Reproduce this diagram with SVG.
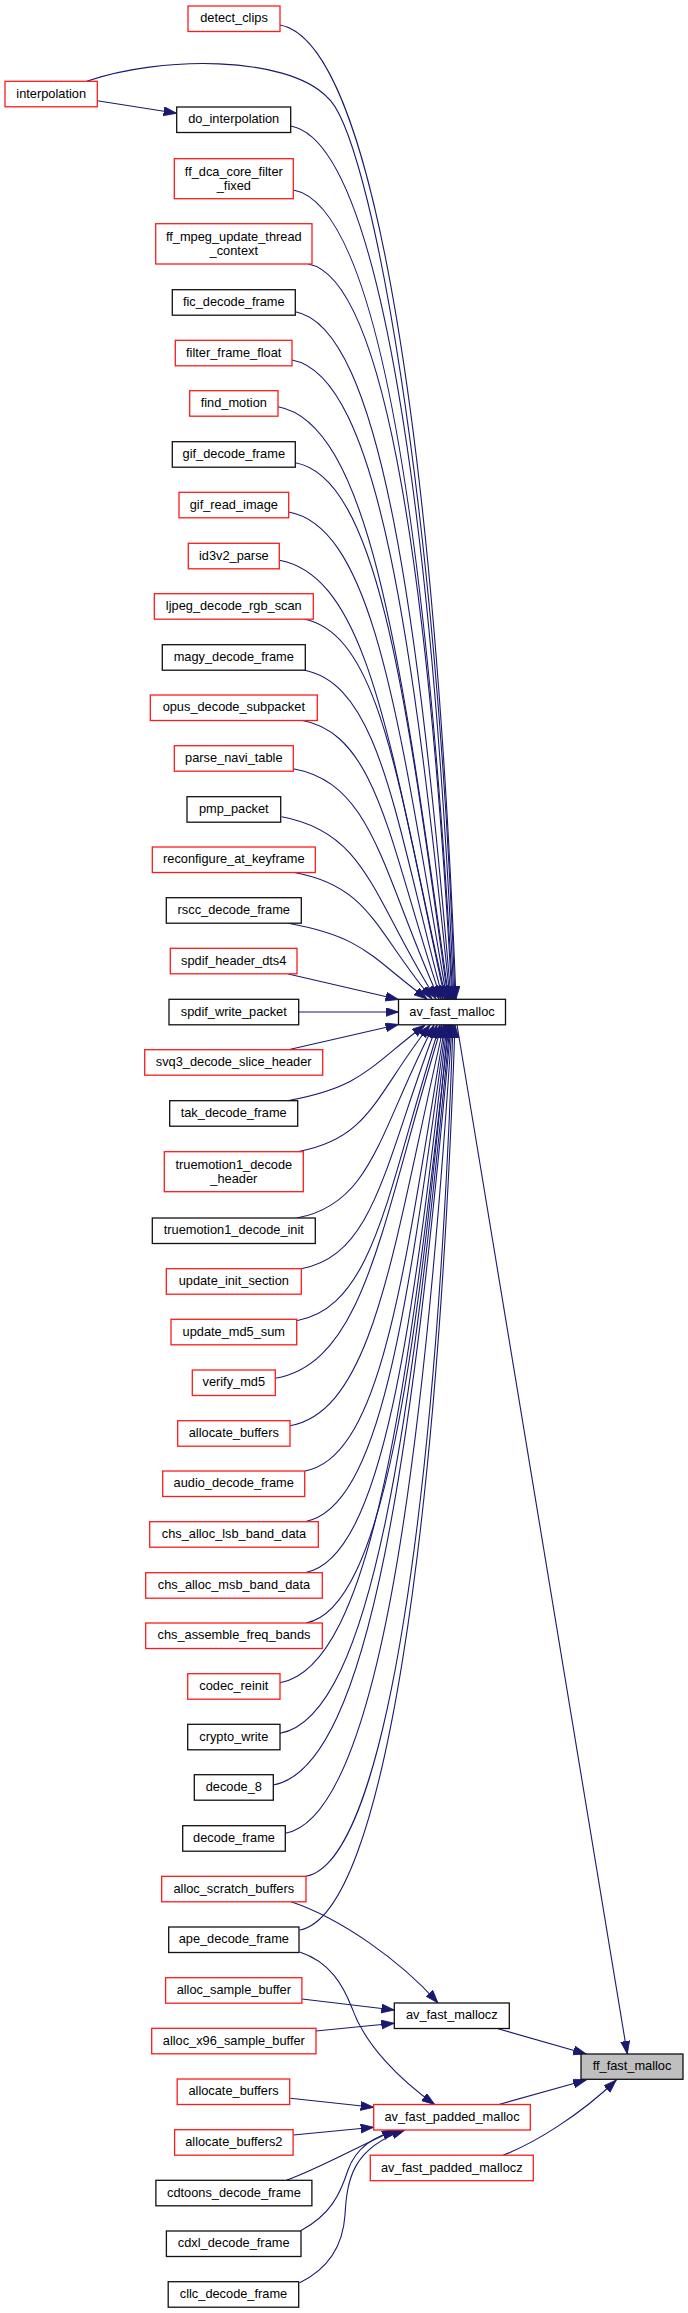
<svg xmlns="http://www.w3.org/2000/svg" width="688" height="2313" viewBox="0 0 688 2313">
<style>
.n rect{fill:#ffffff;stroke-width:1.3}
.k rect{stroke:#111111}
.r rect{stroke:#ff1a1a}
.g rect{fill:#bfbfbf}
text{font-family:"Liberation Sans",Arial,sans-serif;font-size:12.8px;fill:#000000;text-anchor:middle}
#edges path{fill:none;stroke:#191970;stroke-width:1.1;marker-end:url(#ah)}
</style>
<defs>
<marker id="ah" markerUnits="userSpaceOnUse" markerWidth="14" markerHeight="10" refX="13" refY="4.5" orient="auto">
<path d="M0,0 L13,4.5 L0,9 z" fill="#191970" stroke="#191970" stroke-width="0.8"/>
</marker>
</defs>
<rect x="0" y="0" width="688" height="2313" fill="#ffffff"/>
<g id="edges">
<path d="M280,25 C376.8,42.6 435,463.3 456,999"/>
<path d="M86.7,81.3 C160,56 285,55 326.7,96.7 C370,130 437.7,503 455,999"/>
<path d="M290.7,126 C380.5,142.3 432.2,518.8 454,999"/>
<path d="M293.3,190 C381.1,206 428.1,554 453,999"/>
<path d="M308.3,264 C387.3,278.4 430.1,594.7 452,999"/>
<path d="M295.3,311.7 C380.9,327.3 419.2,621 451,999"/>
<path d="M292,360 C378.9,375.8 413.7,647.5 450,999"/>
<path d="M278,406.7 C372.1,423.8 402.7,673.2 449,999"/>
<path d="M295.3,462.7 C379.3,478 407.1,704 448,999"/>
<path d="M288.7,512 C375.8,527.8 399.8,731.1 447,999"/>
<path d="M279.3,560.3 C371,577 391.2,757.7 446,999"/>
<path d="M303.3,619 C381.2,633.2 398.9,790 445,999"/>
<path d="M303.3,670 C380.1,684 394.5,818 443,999"/>
<path d="M301.7,720.3 C378.3,734.2 389.4,845.7 441,999"/>
<path d="M293.3,768.7 C373.4,783.3 381.8,872.3 439,999"/>
<path d="M281.7,816.7 C366.6,832.1 372.9,898.7 436,999"/>
<path d="M293.3,872.3 C369.6,886.2 374.4,929.3 432,999"/>
<path d="M288.3,923.3 C364.6,937.2 370.9,957.4 427,999"/>
<path d="M288.3,974 L398.5,999.5"/>
<path d="M298.7,1012 L398.5,1012"/>
<path d="M288.3,1049.7 L398.5,1024.5"/>
<path d="M287.3,1100.7 C363,1086.9 369.4,1066.6 425,1025"/>
<path d="M297.7,1151.7 C370.5,1138.5 375.1,1094.7 430,1025"/>
<path d="M296.7,1218 C372.2,1204.3 379.1,1131.2 434,1025"/>
<path d="M301.3,1268.7 C375.9,1255.1 385.3,1159 437,1025"/>
<path d="M296.7,1320.7 C375.5,1306.4 387.4,1187.6 440,1025"/>
<path d="M275.3,1378.3 C367,1361.6 381.5,1219.3 442,1025"/>
<path d="M290,1425.7 C374.7,1410.3 393.1,1245.4 444,1025"/>
<path d="M305,1471 C382,1457 404.4,1270.3 445,1025"/>
<path d="M305,1521.7 C382.6,1507.6 408.6,1298.2 446,1025"/>
<path d="M305,1572.7 C383.1,1558.5 412.7,1326.2 447,1025"/>
<path d="M306,1623 C384.1,1608.8 417,1353.9 448,1025"/>
<path d="M280,1682.7 C373,1665.8 408.4,1386.7 449,1025"/>
<path d="M280,1733.3 C373.5,1716.3 412.5,1414.6 450,1025"/>
<path d="M273.3,1785 C371,1767.2 413,1443 451,1025"/>
<path d="M285.3,1833.3 C377,1816.6 423.2,1469.6 452,1025"/>
<path d="M306,1876.3 C386.9,1861.6 436.6,1493.2 453,1025"/>
<path d="M299.7,1930 C385.1,1914.5 437.6,1522.3 455,1025"/>
<path d="M97.3,100.7 L176.7,113.3"/>
<path d="M457,1025 L627.3,2054"/>
<path d="M291,1901.7 C340,1918 400,1960 438,2003"/>
<path d="M302,1999 L394.3,2010"/>
<path d="M316,2031 L394.3,2023.3"/>
<path d="M498,2028.7 L586.3,2054"/>
<path d="M299.7,1952 C330,1962 343,1985 352,2008 C365,2045 400,2080 434.7,2104.5"/>
<path d="M290.3,2098.3 L373.7,2107.3"/>
<path d="M293.3,2135 L373.7,2127.3"/>
<path d="M286.3,2180.3 C320,2168 355,2148 395,2130"/>
<path d="M300.7,2230.7 C330,2215 340,2195 348,2170 C356,2148 375,2135 400,2130"/>
<path d="M299.7,2282.7 C330,2268 343,2245 345,2215 C347,2180 352,2148 405,2130"/>
<path d="M498,2104.7 L586.3,2080"/>
<path d="M503,2155.3 C535,2143 580,2115 616.3,2080"/>
</g>
<g id="detect_clips" class="n r"><rect x="188" y="6" width="92" height="25.5"/><text x="234" y="22.3">detect_clips</text></g>
<g id="interpolation" class="n r"><rect x="5" y="81.3" width="92.3" height="25.5"/><text x="51.2" y="97.6">interpolation</text></g>
<g id="do_interpolation" class="n k"><rect x="176.7" y="107" width="114" height="25.5"/><text x="233.7" y="123.3">do_interpolation</text></g>
<g id="ff_dca_core_filter_fixed" class="n r"><rect x="174.3" y="158.7" width="119" height="40"/><text x="233.8" y="176.3">ff_dca_core_filter</text><text x="233.8" y="190">_fixed</text></g>
<g id="ff_mpeg_update_thread_context" class="n r"><rect x="155.7" y="223.7" width="156.3" height="40.3"/><text x="233.8" y="241.3">ff_mpeg_update_thread</text><text x="233.8" y="255">_context</text></g>
<g id="fic_decode_frame" class="n k"><rect x="172.3" y="289.7" width="123" height="25.5"/><text x="233.8" y="306">fic_decode_frame</text></g>
<g id="filter_frame_float" class="n r"><rect x="175.3" y="340.3" width="116.7" height="25.5"/><text x="233.7" y="356.6">filter_frame_float</text></g>
<g id="find_motion" class="n r"><rect x="189.7" y="390.7" width="88.3" height="25.5"/><text x="233.8" y="407">find_motion</text></g>
<g id="gif_decode_frame" class="n k"><rect x="172.3" y="441.7" width="123" height="25.5"/><text x="233.8" y="458">gif_decode_frame</text></g>
<g id="gif_read_image" class="n r"><rect x="179" y="492.3" width="109.7" height="25.5"/><text x="233.8" y="508.6">gif_read_image</text></g>
<g id="id3v2_parse" class="n r"><rect x="188.3" y="543.3" width="91" height="25.5"/><text x="233.8" y="559.6">id3v2_parse</text></g>
<g id="ljpeg_decode_rgb_scan" class="n r"><rect x="154.3" y="593.7" width="159" height="25.5"/><text x="233.8" y="610">ljpeg_decode_rgb_scan</text></g>
<g id="magy_decode_frame" class="n k"><rect x="162.3" y="644.7" width="143" height="25.5"/><text x="233.8" y="661">magy_decode_frame</text></g>
<g id="opus_decode_subpacket" class="n r"><rect x="150.3" y="695" width="167" height="25.5"/><text x="233.8" y="711.3">opus_decode_subpacket</text></g>
<g id="parse_navi_table" class="n r"><rect x="174.3" y="745.7" width="119" height="25.5"/><text x="233.8" y="762">parse_navi_table</text></g>
<g id="pmp_packet" class="n k"><rect x="187" y="796.7" width="93.7" height="25.5"/><text x="233.8" y="813">pmp_packet</text></g>
<g id="reconfigure_at_keyframe" class="n r"><rect x="152.3" y="847" width="163" height="25.5"/><text x="233.8" y="863.3">reconfigure_at_keyframe</text></g>
<g id="rscc_decode_frame" class="n k"><rect x="166.3" y="897.7" width="135" height="25.5"/><text x="233.8" y="914">rscc_decode_frame</text></g>
<g id="spdif_header_dts4" class="n r"><rect x="170.3" y="948.3" width="126.7" height="25.5"/><text x="233.7" y="964.6">spdif_header_dts4</text></g>
<g id="spdif_write_packet" class="n k"><rect x="169" y="999.3" width="129.7" height="25.5"/><text x="233.8" y="1015.6">spdif_write_packet</text></g>
<g id="svq3_decode_slice_header" class="n r"><rect x="144.7" y="1049.7" width="178" height="25.5"/><text x="233.7" y="1066">svq3_decode_slice_header</text></g>
<g id="tak_decode_frame" class="n k"><rect x="169.7" y="1100.7" width="128" height="25.5"/><text x="233.7" y="1117">tak_decode_frame</text></g>
<g id="truemotion1_decode_header" class="n r"><rect x="164.3" y="1151.7" width="139" height="40"/><text x="233.8" y="1169.3">truemotion1_decode</text><text x="233.8" y="1183">_header</text></g>
<g id="truemotion1_decode_init" class="n k"><rect x="152.3" y="1218" width="163" height="25.5"/><text x="233.8" y="1234.3">truemotion1_decode_init</text></g>
<g id="update_init_section" class="n r"><rect x="166.3" y="1268.7" width="135" height="25.5"/><text x="233.8" y="1285">update_init_section</text></g>
<g id="update_md5_sum" class="n r"><rect x="171" y="1319.3" width="125.7" height="25.5"/><text x="233.8" y="1335.6">update_md5_sum</text></g>
<g id="verify_md5" class="n r"><rect x="192.3" y="1370" width="83" height="25.5"/><text x="233.8" y="1386.3">verify_md5</text></g>
<g id="allocate_buffers_1" class="n r"><rect x="177.7" y="1420.7" width="112.3" height="25.5"/><text x="233.8" y="1437">allocate_buffers</text></g>
<g id="audio_decode_frame" class="n r"><rect x="162.7" y="1471" width="142" height="25.5"/><text x="233.7" y="1487.3">audio_decode_frame</text></g>
<g id="chs_alloc_lsb_band_data" class="n r"><rect x="149.7" y="1521.7" width="168.6" height="25.5"/><text x="234" y="1538">chs_alloc_lsb_band_data</text></g>
<g id="chs_alloc_msb_band_data" class="n r"><rect x="145.7" y="1572.7" width="176.6" height="25.5"/><text x="234" y="1589">chs_alloc_msb_band_data</text></g>
<g id="chs_assemble_freq_bands" class="n r"><rect x="145.7" y="1623" width="176.6" height="25.5"/><text x="234" y="1639.3">chs_assemble_freq_bands</text></g>
<g id="codec_reinit" class="n r"><rect x="187.7" y="1673.7" width="92.3" height="25.5"/><text x="233.8" y="1690">codec_reinit</text></g>
<g id="crypto_write" class="n k"><rect x="187.7" y="1724.3" width="92.3" height="25.5"/><text x="233.8" y="1740.6">crypto_write</text></g>
<g id="decode_8" class="n k"><rect x="194.3" y="1774.7" width="79" height="25.5"/><text x="233.8" y="1791">decode_8</text></g>
<g id="decode_frame" class="n k"><rect x="182.7" y="1825.7" width="102.6" height="25.5"/><text x="234" y="1842">decode_frame</text></g>
<g id="alloc_scratch_buffers" class="n r"><rect x="161.7" y="1876.3" width="144.3" height="25.5"/><text x="233.8" y="1892.6">alloc_scratch_buffers</text></g>
<g id="ape_decode_frame" class="n k"><rect x="168.7" y="1927" width="130.3" height="25.5"/><text x="233.8" y="1943.3">ape_decode_frame</text></g>
<g id="alloc_sample_buffer" class="n r"><rect x="165.6" y="1977.7" width="136.3" height="25.5"/><text x="233.8" y="1994">alloc_sample_buffer</text></g>
<g id="alloc_x96_sample_buffer" class="n r"><rect x="151.7" y="2028.3" width="164.3" height="25.5"/><text x="233.8" y="2044.6">alloc_x96_sample_buffer</text></g>
<g id="allocate_buffers_2" class="n r"><rect x="177.2" y="2079" width="112.5" height="25.5"/><text x="233.5" y="2095.3">allocate_buffers</text></g>
<g id="allocate_buffers2" class="n r"><rect x="174.6" y="2129.7" width="118.5" height="25.5"/><text x="233.8" y="2146">allocate_buffers2</text></g>
<g id="cdtoons_decode_frame" class="n k"><rect x="155.9" y="2180.3" width="156" height="25.5"/><text x="233.9" y="2196.6">cdtoons_decode_frame</text></g>
<g id="cdxl_decode_frame" class="n k"><rect x="166.4" y="2231" width="134.6" height="25.5"/><text x="233.7" y="2247.3">cdxl_decode_frame</text></g>
<g id="cllc_decode_frame" class="n k"><rect x="168.2" y="2281.7" width="130.5" height="25.5"/><text x="233.5" y="2298">cllc_decode_frame</text></g>
<g id="av_fast_malloc" class="n k"><rect x="398.5" y="999.3" width="107" height="25.5"/><text x="452" y="1015.6">av_fast_malloc</text></g>
<g id="av_fast_mallocz" class="n k"><rect x="394.3" y="2003" width="115" height="25.5"/><text x="451.8" y="2019.3">av_fast_mallocz</text></g>
<g id="av_fast_padded_malloc" class="n r"><rect x="373.7" y="2104.5" width="156.6" height="25.5"/><text x="452" y="2120.8">av_fast_padded_malloc</text></g>
<g id="av_fast_padded_mallocz" class="n r"><rect x="370.3" y="2155.2" width="163" height="25.5"/><text x="451.8" y="2171.5">av_fast_padded_mallocz</text></g>
<g id="ff_fast_malloc" class="n k g"><rect x="581" y="2054" width="102" height="25.3"/><text x="632" y="2070.3">ff_fast_malloc</text></g>
</svg>
